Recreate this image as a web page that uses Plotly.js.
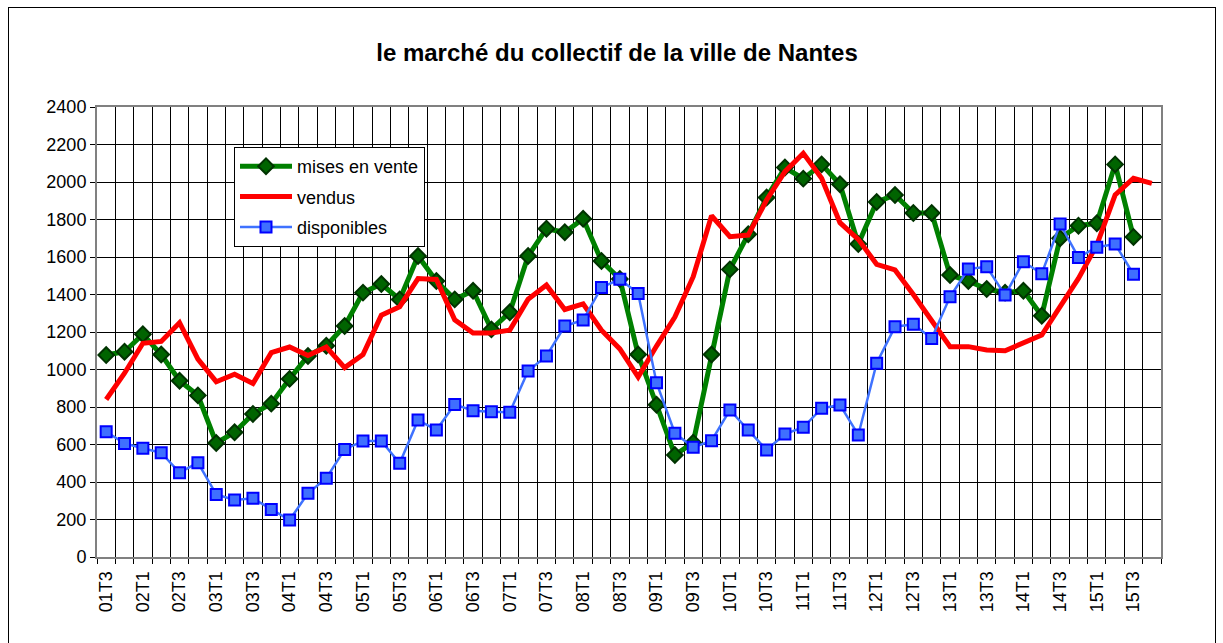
<!DOCTYPE html>
<html>
<head>
<meta charset="utf-8">
<script src="https://cdn.plot.ly/plotly-3.0.1.min.js"></script>
<style>
  html, body { margin: 0; padding: 0; background: #fff; }
  #wrap { position: relative; width: 1223px; height: 643px; }
  #chart { position: absolute; left: 0; top: 0; width: 1223px; height: 643px; }
  #frame { position: absolute; left: 8px; top: 7px; width: 1206px; height: 640px; border: 1px solid #000; pointer-events: none; }
</style>
</head>
<body>
<div id="wrap">
  <div id="chart"></div>
  <div id="frame"></div>
</div>
<script>
// Quarters (categories)
const quarters = [
  "01T3","01T4",
  "02T1","02T2","02T3","02T4",
  "03T1","03T2","03T3","03T4",
  "04T1","04T2","04T3","04T4",
  "05T1","05T2","05T3","05T4",
  "06T1","06T2","06T3","06T4",
  "07T1","07T2","07T3","07T4",
  "08T1","08T2","08T3","08T4",
  "09T1","09T2","09T3","09T4",
  "10T1","10T2","10T3","10T4",
  "11T1","11T2","11T3","11T4",
  "12T1","12T2","12T3","12T4",
  "13T1","13T2","13T3","13T4",
  "14T1","14T2","14T3","14T4",
  "15T1","15T2","15T3","15T4"
];

// Tick labels shown (every other quarter)
const tickLabels = [
  "01T3","","02T1","","02T3","","03T1","","03T3","","04T1","","04T3","",
  "05T1","","05T3","","06T1","","06T3","","07T1","","07T3","","08T1","",
  "08T3","","09T1","","09T3","","10T1","","10T3","","11T1","","11T3","",
  "12T1","","12T3","","13T1","","13T3","","14T1","","14T3","","15T1","",
  "15T3",""
];

// mises en vente
const misesEnVente = [
  1077,1095,1188,1080,940,862,608,665,763,818,950,1072,1127,1232,
  1410,1456,1374,1605,1472,1374,1420,1214,1305,1605,1751,1732,1804,1579,
  1483,1080,812,544,610,1080,1534,1721,1917,2077,2018,2094,1988,1669,
  1893,1931,1835,1835,1504,1472,1429,1410,1420,1287,1700,1767,1780,2094,
  1707
];

// vendus
const vendus = [
  840,980,1140,1150,1250,1055,935,975,925,1090,1120,1075,1120,1010,
  1080,1290,1335,1485,1480,1265,1195,1195,1210,1375,1450,1320,1350,1210,
  1110,960,1125,1280,1495,1820,1708,1717,1904,2055,2153,2020,1783,1694,
  1561,1531,1400,1264,1122,1122,1104,1100,1140,1184,1335,1486,1664,1931,
  2020,1993
];

// disponibles
const disponibles = [
  668,606,580,556,450,503,334,304,313,254,197,340,420,574,
  619,619,500,731,677,814,780,775,772,992,1072,1232,1264,1438,
  1481,1406,930,660,585,620,784,677,571,656,692,793,811,651,
  1033,1228,1241,1166,1388,1536,1548,1397,1575,1511,1776,1598,1652,1669,
  1508
];

const FONT = "Arial, 'Liberation Sans', sans-serif";

const traces = [
  {
    type: "scatter", mode: "lines+markers", name: "mises en vente",
    x: quarters.slice(0, misesEnVente.length), y: misesEnVente,
    legendgroup: "a",
    line: { color: "#008000", width: 5 },
    marker: { symbol: "diamond", size: 12, color: "#006400", line: { color: "#003300", width: 2 } }
  },
  {
    type: "scatter", mode: "lines", name: "vendus",
    x: quarters.slice(0, vendus.length), y: vendus,
    legendgroup: "b",
    line: { color: "#FF0000", width: 5 }
  },
  {
    type: "scatter", mode: "lines+markers", name: "disponibles",
    x: quarters.slice(0, disponibles.length), y: disponibles,
    legendgroup: "c",
    line: { color: "#3F72FF", width: 2.5 },
    marker: { symbol: "square", size: 11, color: "#3F6FFF", line: { color: "#0000FF", width: 2 } }
  }
];

const layout = {
  width: 1223, height: 643,
  margin: { l: 97, r: 62, t: 107, b: 86 },
  paper_bgcolor: "#fff", plot_bgcolor: "#fff",
  font: { family: FONT, size: 18, color: "#000" },
  title: {
    text: "<b>le marché du collectif de la ville de Nantes</b>",
    font: { family: FONT, size: 24, color: "#000" },
    x: 617 / 1223, xref: "container", xanchor: "center",
    y: 1 - 53 / 643, yref: "container", yanchor: "middle"
  },
  showlegend: true,
  legend: {
    x: (234 - 97) / 1064, y: (557 - 147) / 450, xanchor: "left", yanchor: "top",
    bgcolor: "#fff", bordercolor: "#000", borderwidth: 1,
    font: { family: FONT, size: 18, color: "#000" },
    traceorder: "grouped", tracegroupgap: 4, itemwidth: 52
  },
  xaxis: {
    type: "category",
    categoryorder: "array", categoryarray: quarters,
    range: [-0.5, quarters.length - 0.5],
    tickmode: "array", tickvals: quarters,
    ticktext: tickLabels.map(t => t ? t + "\u00a0" : ""),
    tickson: "boundaries",
    tickangle: -90,
    ticks: "outside", ticklen: 5, tickcolor: "#000", tickwidth: 1,
    showgrid: true, gridcolor: "#000", gridwidth: 1,
    showline: true, linecolor: "#808080", linewidth: 2, mirror: true,
    tickfont: { family: FONT, size: 18, color: "#000" },
    automargin: false, fixedrange: true
  },
  yaxis: {
    range: [0, 2400], dtick: 200, tick0: 0,
    ticks: "outside", ticklen: 5, tickcolor: "#000", tickwidth: 1,
    showgrid: true, gridcolor: "#000", gridwidth: 1,
    zeroline: false,
    showline: true, linecolor: "#808080", linewidth: 2, mirror: true,
    tickfont: { family: FONT, size: 18, color: "#000" },
    automargin: false, fixedrange: true
  }
};

Plotly.newPlot("chart", traces, layout, { displayModeBar: false, staticPlot: true });
</script>
</body>
</html>
